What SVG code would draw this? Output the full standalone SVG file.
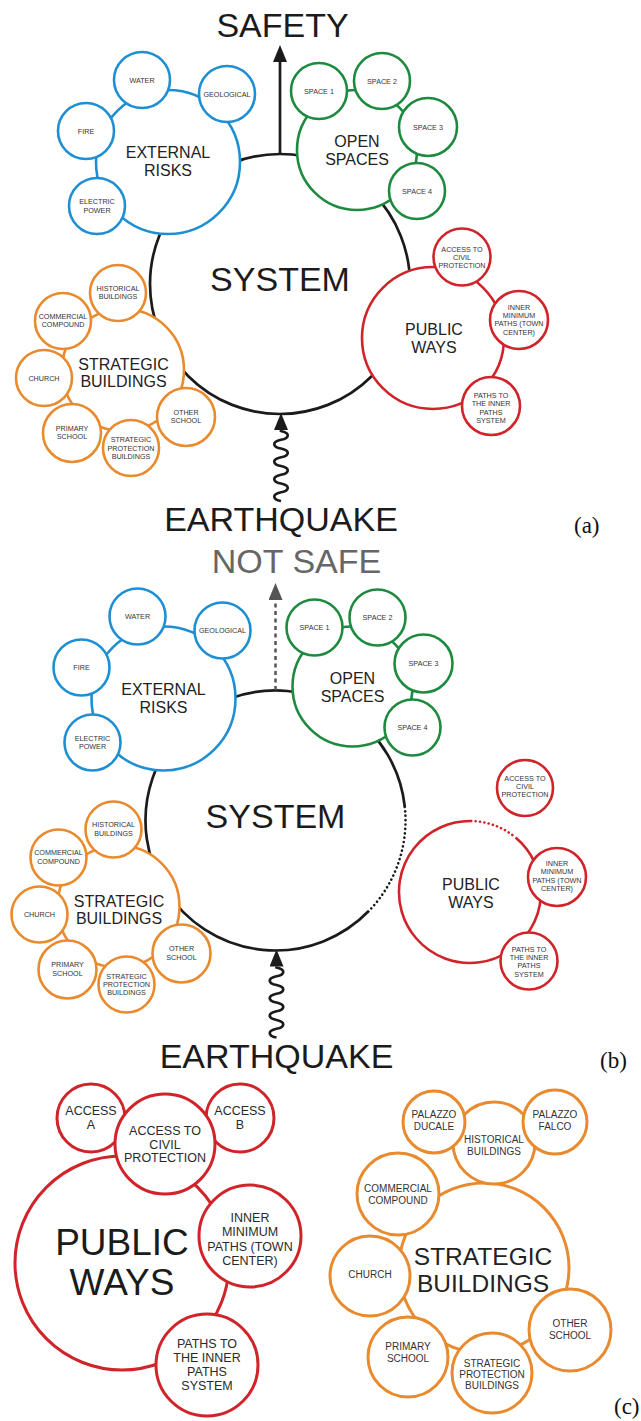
<svg xmlns="http://www.w3.org/2000/svg" width="641" height="1421" viewBox="0 0 641 1421">
<style>
.n{fill:#fff;stroke-width:2.6}
.sys{fill:#fff;stroke:#1b1b1b;stroke-width:2.7}
.bl{stroke:#1f8fd3}
.gr{stroke:#1d8a3f}
.rd{stroke:#d0232a}
.or{stroke:#e88a2d}
.w3{stroke-width:3}
text{font-family:"Liberation Sans",Arial,Helvetica,sans-serif;text-anchor:middle}
.s7{font-size:7.2px;fill:#333}
.m16{font-size:16px;fill:#222}
.xl{font-size:34px;fill:#1b1b1b}
.gy{fill:#666}
.s12{font-size:12.5px;fill:#2a2a2a}
.s10{font-size:10px;fill:#333}
.pw{font-size:37px;fill:#1b1b1b}
.sb{font-size:24.5px;fill:#222}
.lab{font-family:"Liberation Serif","Times New Roman",serif;font-size:23px;fill:#111;text-anchor:start}
.dotk{fill:none;stroke:#1b1b1b;stroke-width:2.6;stroke-linecap:round;stroke-dasharray:0.1 4.3}
.dotr{fill:none;stroke:#d0232a;stroke-width:2.6;stroke-linecap:round;stroke-dasharray:0.1 4.3}
.arr{fill:none;stroke:#1b1b1b;stroke-width:2.7}
.arrg{fill:none;stroke:#555;stroke-width:2.5;stroke-dasharray:4 3.5}
</style>
<defs>
<marker id="ah" markerUnits="userSpaceOnUse" markerWidth="18" markerHeight="14" viewBox="0 0 18 14" refX="0" refY="7" orient="auto"><path d="M0,0 L17,7 L0,14 Z" fill="#1b1b1b"/></marker>
<marker id="ahg" markerUnits="userSpaceOnUse" markerWidth="18" markerHeight="14" viewBox="0 0 18 14" refX="0" refY="7" orient="auto"><path d="M0,0 L17,7 L0,14 Z" fill="#555"/></marker>
</defs>
<rect width="641" height="1421" fill="#fff"/>

<!-- ================= PANEL (a) ================= -->
<g id="panel-a">
<g id="a-system"><circle class="sys" cx="280" cy="284" r="130"/><text class="xl" x="280" y="291">SYSTEM</text></g>

<g id="a-external-risks"><circle class="n bl" cx="168" cy="162" r="72"/><text class="m16"><tspan x="168" y="158">EXTERNAL</tspan><tspan x="168" y="176">RISKS</tspan></text></g>
<g id="a-water"><circle class="n bl" cx="142" cy="80" r="28"/><text class="s7" x="142" y="82.5">WATER</text></g>
<g id="a-geological"><circle class="n bl" cx="227" cy="94" r="28"/><text class="s7" x="227" y="96.5">GEOLOGICAL</text></g>
<g id="a-fire"><circle class="n bl" cx="86" cy="131" r="28"/><text class="s7" x="86" y="133.5">FIRE</text></g>
<g id="a-electric"><circle class="n bl" cx="97" cy="206" r="28"/><text class="s7"><tspan x="97" y="204.4">ELECTRIC</tspan><tspan x="97" y="212.6">POWER</tspan></text></g>

<g id="a-open-spaces"><circle class="n gr" cx="357" cy="150" r="60"/><text class="m16"><tspan x="357" y="147">OPEN</tspan><tspan x="357" y="165">SPACES</tspan></text></g>
<g id="a-space1"><circle class="n gr" cx="319" cy="91" r="28"/><text class="s7" x="319" y="93.5">SPACE 1</text></g>
<g id="a-space2"><circle class="n gr" cx="382" cy="81" r="28"/><text class="s7" x="382" y="83.5">SPACE 2</text></g>
<g id="a-space3"><circle class="n gr" cx="428" cy="127" r="29"/><text class="s7" x="428" y="129.5">SPACE 3</text></g>
<g id="a-space4"><circle class="n gr" cx="417" cy="191" r="28"/><text class="s7" x="417" y="193.5">SPACE 4</text></g>

<g id="a-strategic"><circle class="n or" cx="123" cy="370" r="61"/><text class="m16"><tspan x="123.5" y="370">STRATEGIC</tspan><tspan x="123.5" y="387">BUILDINGS</tspan></text></g>
<g id="a-historical"><circle class="n or" cx="118" cy="293" r="28"/><text class="s7"><tspan x="118" y="290.9">HISTORICAL</tspan><tspan x="118" y="299.1">BUILDINGS</tspan></text></g>
<g id="a-commercial"><circle class="n or" cx="63" cy="321" r="28"/><text class="s7"><tspan x="63" y="318.9">COMMERCIAL</tspan><tspan x="63" y="327.1">COMPOUND</tspan></text></g>
<g id="a-church"><circle class="n or" cx="44" cy="378" r="28"/><text class="s7" x="44" y="380.5">CHURCH</text></g>
<g id="a-primary"><circle class="n or" cx="72" cy="433" r="29"/><text class="s7"><tspan x="72" y="430.9">PRIMARY</tspan><tspan x="72" y="439.1">SCHOOL</tspan></text></g>
<g id="a-spb"><circle class="n or" cx="131" cy="448" r="28"/><text class="s7"><tspan x="131" y="442.3">STRATEGIC</tspan><tspan x="131" y="450.5">PROTECTION</tspan><tspan x="131" y="458.7">BUILDINGS</tspan></text></g>
<g id="a-other-school"><circle class="n or" cx="186" cy="417" r="29"/><text class="s7"><tspan x="186" y="414.9">OTHER</tspan><tspan x="186" y="423.1">SCHOOL</tspan></text></g>

<g id="a-public-ways"><circle class="n rd" cx="433" cy="338" r="71"/><text class="m16"><tspan x="434" y="335">PUBLIC</tspan><tspan x="434" y="353">WAYS</tspan></text></g>
<g id="a-access"><circle class="n rd" cx="462" cy="257" r="28.5"/><text class="s7"><tspan x="462" y="251.5">ACCESS TO</tspan><tspan x="462" y="259.7">CIVIL</tspan><tspan x="462" y="267.9">PROTECTION</tspan></text></g>
<g id="a-inner"><circle class="n rd" cx="519" cy="320" r="29"/><text class="s7"><tspan x="519" y="309.9">INNER</tspan><tspan x="519" y="318.1">MINIMUM</tspan><tspan x="519" y="326.3">PATHS (TOWN</tspan><tspan x="519" y="334.5">CENTER)</tspan></text></g>
<g id="a-paths"><circle class="n rd" cx="491" cy="406" r="29"/><text class="s7"><tspan x="491" y="398.2">PATHS TO</tspan><tspan x="491" y="406.4">THE INNER</tspan><tspan x="491" y="414.6">PATHS</tspan><tspan x="491" y="422.8">SYSTEM</tspan></text></g>

<g id="a-safety"><text class="xl" x="282.5" y="37">SAFETY</text></g>
<g id="a-earthquake"><text class="xl" x="281" y="531">EARTHQUAKE</text></g>
<g id="a-connectors">
<line class="arr" x1="280" y1="154" x2="280" y2="62" marker-end="url(#ah)"/>
<path class="arr" d="M281,501 c-9,-2 -9,-6.75 0,-8.75 c9,-2 9,-6.75 0,-8.75 c-9,-2 -9,-6.75 0,-8.75 c9,-2 9,-6.75 0,-8.75 c-9,-2 -9,-6.75 0,-8.75 c9,-2 9,-6.75 0,-8.75 c-9,-2 -9,-6.75 0,-8.75 c9,-2 9,-6.75 0,-8.75 l0,-1" marker-end="url(#ah)"/>
</g>
<text class="lab" x="574" y="533">(a)</text>
</g>

<!-- ================= PANEL (b) ================= -->
<g id="panel-b">
<g transform="translate(-4.5,536.5)">
<g id="b-system"><path class="sys" d="M373.5,374.3 A130,130 0 1 1 409.3,270.4"/><path class="dotk" d="M409.3,270.4 A130,130 0 0 1 373.5,374.3"/><text class="xl" x="280" y="291">SYSTEM</text></g>

<g id="b-external-risks"><circle class="n bl" cx="168" cy="162" r="72"/><text class="m16"><tspan x="168" y="158">EXTERNAL</tspan><tspan x="168" y="176">RISKS</tspan></text></g>
<g id="b-water"><circle class="n bl" cx="142" cy="80" r="28"/><text class="s7" x="142" y="82.5">WATER</text></g>
<g id="b-geological"><circle class="n bl" cx="227" cy="94" r="28"/><text class="s7" x="227" y="96.5">GEOLOGICAL</text></g>
<g id="b-fire"><circle class="n bl" cx="86" cy="131" r="28"/><text class="s7" x="86" y="133.5">FIRE</text></g>
<g id="b-electric"><circle class="n bl" cx="97" cy="206" r="28"/><text class="s7"><tspan x="97" y="204.4">ELECTRIC</tspan><tspan x="97" y="212.6">POWER</tspan></text></g>

<g id="b-open-spaces"><circle class="n gr" cx="357" cy="150" r="60"/><text class="m16"><tspan x="357" y="147">OPEN</tspan><tspan x="357" y="165">SPACES</tspan></text></g>
<g id="b-space1"><circle class="n gr" cx="319" cy="91" r="28"/><text class="s7" x="319" y="93.5">SPACE 1</text></g>
<g id="b-space2"><circle class="n gr" cx="382" cy="81" r="28"/><text class="s7" x="382" y="83.5">SPACE 2</text></g>
<g id="b-space3"><circle class="n gr" cx="428" cy="127" r="29"/><text class="s7" x="428" y="129.5">SPACE 3</text></g>
<g id="b-space4"><circle class="n gr" cx="417" cy="191" r="28"/><text class="s7" x="417" y="193.5">SPACE 4</text></g>

<g id="b-strategic"><circle class="n or" cx="123" cy="370" r="61"/><text class="m16"><tspan x="123.5" y="370">STRATEGIC</tspan><tspan x="123.5" y="387">BUILDINGS</tspan></text></g>
<g id="b-historical"><circle class="n or" cx="118" cy="293" r="28"/><text class="s7"><tspan x="118" y="290.9">HISTORICAL</tspan><tspan x="118" y="299.1">BUILDINGS</tspan></text></g>
<g id="b-commercial"><circle class="n or" cx="63" cy="321" r="28"/><text class="s7"><tspan x="63" y="318.9">COMMERCIAL</tspan><tspan x="63" y="327.1">COMPOUND</tspan></text></g>
<g id="b-church"><circle class="n or" cx="44" cy="378" r="28"/><text class="s7" x="44" y="380.5">CHURCH</text></g>
<g id="b-primary"><circle class="n or" cx="72" cy="433" r="29"/><text class="s7"><tspan x="72" y="430.9">PRIMARY</tspan><tspan x="72" y="439.1">SCHOOL</tspan></text></g>
<g id="b-spb"><circle class="n or" cx="131" cy="448" r="28"/><text class="s7"><tspan x="131" y="442.3">STRATEGIC</tspan><tspan x="131" y="450.5">PROTECTION</tspan><tspan x="131" y="458.7">BUILDINGS</tspan></text></g>
<g id="b-other-school"><circle class="n or" cx="186" cy="417" r="29"/><text class="s7"><tspan x="186" y="414.9">OTHER</tspan><tspan x="186" y="423.1">SCHOOL</tspan></text></g>

<g id="b-earthquake"><text class="xl" x="281" y="531">EARTHQUAKE</text></g>
<g id="b-connectors-1">
<path class="arr" d="M281,501 c-9,-2 -9,-6.75 0,-8.75 c9,-2 9,-6.75 0,-8.75 c-9,-2 -9,-6.75 0,-8.75 c9,-2 9,-6.75 0,-8.75 c-9,-2 -9,-6.75 0,-8.75 c9,-2 9,-6.75 0,-8.75 c-9,-2 -9,-6.75 0,-8.75 c9,-2 9,-6.75 0,-8.75 l0,-1" marker-end="url(#ah)"/>
</g>
</g>

<g id="b-not-safe"><text class="xl gy" x="296.5" y="573">NOT SAFE</text></g>
<g id="b-connectors-2">
<line class="arrg" x1="275.5" y1="690" x2="275.5" y2="600" marker-end="url(#ahg)"/>
</g>

<g id="b-public-ways"><path class="n rd" d="M515.6,837.6 A71,71 0 1 1 471.2,821"/><path class="dotr" d="M471.2,821 A71,71 0 0 1 515.6,837.6"/><text class="m16"><tspan x="471" y="890">PUBLIC</tspan><tspan x="471" y="908">WAYS</tspan></text></g>
<g id="b-access"><circle class="n rd" cx="525" cy="788" r="28"/><text class="s7"><tspan x="525" y="781">ACCESS TO</tspan><tspan x="525" y="789.2">CIVIL</tspan><tspan x="525" y="797.4">PROTECTION</tspan></text></g>
<g id="b-inner"><circle class="n rd" cx="557" cy="877" r="29"/><text class="s7"><tspan x="557" y="866.2">INNER</tspan><tspan x="557" y="874.4">MINIMUM</tspan><tspan x="557" y="882.6">PATHS (TOWN</tspan><tspan x="557" y="890.8">CENTER)</tspan></text></g>
<g id="b-paths"><circle class="n rd" cx="529" cy="961" r="28.5"/><text class="s7"><tspan x="529" y="952">PATHS TO</tspan><tspan x="529" y="960.2">THE INNER</tspan><tspan x="529" y="968.4">PATHS</tspan><tspan x="529" y="976.6">SYSTEM</tspan></text></g>
<text class="lab" x="600" y="1068">(b)</text>
</g>

<!-- ================= PANEL (c) ================= -->
<g id="panel-c">
<g id="c-public-ways"><circle class="n rd w3" cx="122" cy="1263" r="107"/><text class="pw"><tspan x="122" y="1255">PUBLIC</tspan><tspan x="122" y="1295">WAYS</tspan></text></g>
<g id="c-access-a"><circle class="n rd w3" cx="91" cy="1118" r="34"/><text class="s12"><tspan x="91" y="1115">ACCESS</tspan><tspan x="91" y="1129">A</tspan></text></g>
<g id="c-access-b"><circle class="n rd w3" cx="240" cy="1118" r="34"/><text class="s12"><tspan x="240" y="1115">ACCESS</tspan><tspan x="240" y="1129">B</tspan></text></g>
<g id="c-access"><circle class="n rd w3" cx="165" cy="1144" r="50"/><text class="s12"><tspan x="165" y="1135">ACCESS TO</tspan><tspan x="165" y="1148.5">CIVIL</tspan><tspan x="165" y="1162">PROTECTION</tspan></text></g>
<g id="c-inner"><circle class="n rd w3" cx="250" cy="1236" r="51"/><text class="s12"><tspan x="250" y="1222">INNER</tspan><tspan x="250" y="1236.3">MINIMUM</tspan><tspan x="250" y="1250.6">PATHS (TOWN</tspan><tspan x="250" y="1265">CENTER)</tspan></text></g>
<g id="c-paths"><circle class="n rd w3" cx="207" cy="1365" r="51"/><text class="s12"><tspan x="207" y="1348">PATHS TO</tspan><tspan x="207" y="1362">THE INNER</tspan><tspan x="207" y="1376">PATHS</tspan><tspan x="207" y="1390">SYSTEM</tspan></text></g>

<g id="c-strategic"><circle class="n or w3" cx="484" cy="1268" r="85"/><text class="sb"><tspan x="483" y="1265">STRATEGIC</tspan><tspan x="483" y="1292">BUILDINGS</tspan></text></g>
<g id="c-historical"><circle class="n or w3" cx="494" cy="1143" r="41"/><text class="s10"><tspan x="494" y="1143">HISTORICAL</tspan><tspan x="494" y="1154.5">BUILDINGS</tspan></text></g>
<g id="c-palazzo-ducale"><circle class="n or w3" cx="434" cy="1122" r="31"/><text class="s10"><tspan x="434" y="1118">PALAZZO</tspan><tspan x="434" y="1129.5">DUCALE</tspan></text></g>
<g id="c-palazzo-falco"><circle class="n or w3" cx="555" cy="1122" r="32"/><text class="s10"><tspan x="555" y="1118">PALAZZO</tspan><tspan x="555" y="1129.5">FALCO</tspan></text></g>
<g id="c-commercial"><circle class="n or w3" cx="398" cy="1194" r="41"/><text class="s10"><tspan x="398" y="1192">COMMERCIAL</tspan><tspan x="398" y="1203.5">COMPOUND</tspan></text></g>
<g id="c-church"><circle class="n or w3" cx="370" cy="1276" r="40"/><text class="s10" x="370" y="1278">CHURCH</text></g>
<g id="c-primary"><circle class="n or w3" cx="408" cy="1357" r="40"/><text class="s10"><tspan x="408" y="1350">PRIMARY</tspan><tspan x="408" y="1361.5">SCHOOL</tspan></text></g>
<g id="c-spb"><circle class="n or w3" cx="492" cy="1373" r="40"/><text class="s10"><tspan x="492" y="1367">STRATEGIC</tspan><tspan x="492" y="1378">PROTECTION</tspan><tspan x="492" y="1389">BUILDINGS</tspan></text></g>
<g id="c-other-school"><circle class="n or w3" cx="570" cy="1330" r="41"/><text class="s10"><tspan x="570" y="1327">OTHER</tspan><tspan x="570" y="1338.5">SCHOOL</tspan></text></g>
<text class="lab" x="614" y="1414">(c)</text>
</g>
</svg>
